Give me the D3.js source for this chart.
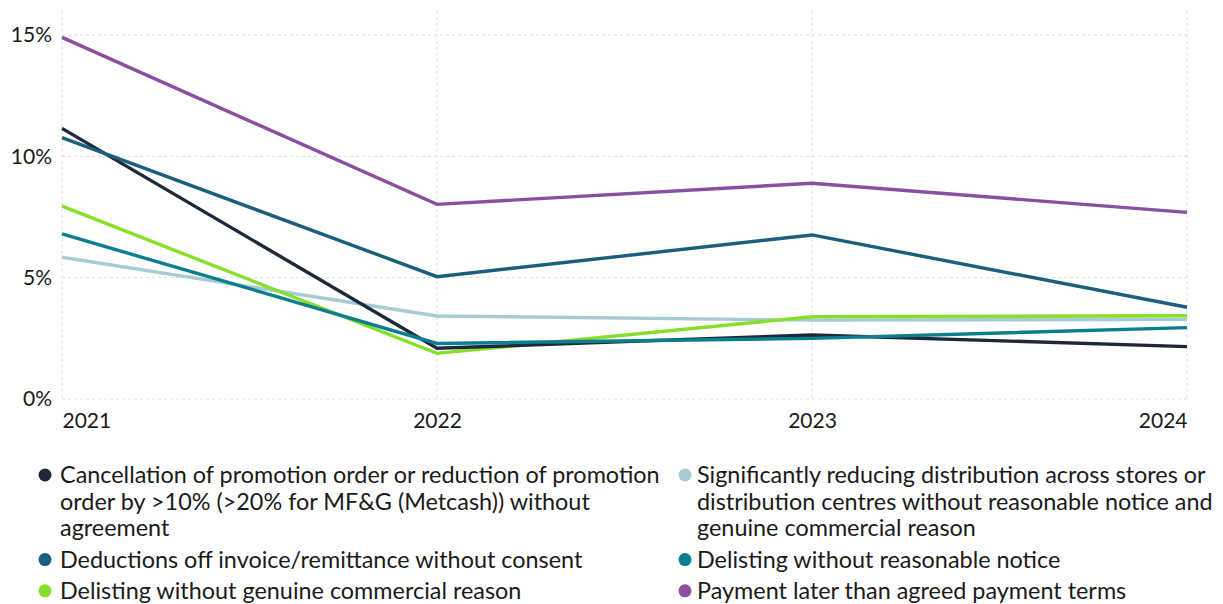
<!DOCTYPE html>
<html>
<head>
<meta charset="utf-8">
<script src="https://cdn.jsdelivr.net/npm/d3@7"></script>
<style>
  html, body { margin: 0; padding: 0; background: #fff; }
  svg { display: block; font-family: Lato, "Open Sans", sans-serif; }
</style>
</head>
<body>
<svg id="chart" width="1223" height="604"></svg>
<script>
const years = ["2021", "2022", "2023", "2024"];
const yTicks = [0, 5, 10, 15];

const seriesNames = [
  "Cancellation of promotion order or reduction of promotion\norder by >10% (>20% for MF&G (Metcash)) without\nagreement",
  "Significantly reducing distribution across stores or\ndistribution centres without reasonable notice and\ngenuine commercial reason",
  "Deductions off invoice/remittance without consent",
  "Delisting without reasonable notice",
  "Delisting without genuine commercial reason",
  "Payment later than agreed payment terms"
];
const seriesColors = ["#1d2939", "#a6cbd3", "#1b5f7c", "#0b7f8d", "#86df2a", "#8a4fa3"];

const cancellation = [11.15, 2.09, 2.64, 2.16];
const reducingDistribution = [5.84, 3.42, 3.25, 3.28];
const deductions = [10.77, 5.04, 6.76, 3.78];
const delistingNotice = [6.80, 2.29, 2.50, 2.94];
const delistingReason = [7.95, 1.88, 3.39, 3.43];
const paymentLate = [14.9, 8.02, 8.89, 7.69];

const seriesValues = [cancellation, reducingDistribution, deductions, delistingNotice, delistingReason, paymentLate];
const drawOrder = [1, 4, 0, 3, 2, 5];

const svg = d3.select("#chart");
const x = d3.scalePoint().domain(years).range([62, 1187]);
const y = d3.scaleLinear().domain([0, 16]).range([399, 10.7]);

// horizontal gridlines
svg.append("g").selectAll("line").data(yTicks).join("line")
  .attr("x1", x.range()[0]).attr("x2", x.range()[1])
  .attr("y1", d => y(d)).attr("y2", d => y(d))
  .attr("stroke", "#dcdcdc").attr("stroke-width", 1).attr("stroke-dasharray", "3,3");

// vertical gridlines
svg.append("g").selectAll("line").data(years).join("line")
  .attr("x1", d => x(d)).attr("x2", d => x(d))
  .attr("y1", y(16)).attr("y2", y(0))
  .attr("stroke", "#dcdcdc").attr("stroke-width", 1).attr("stroke-dasharray", "3,3");

// y axis labels
const yAxis = d3.axisLeft(y).tickValues(yTicks).tickFormat(d => d + "%").tickSize(0).tickPadding(10);
const gy = svg.append("g").attr("transform", `translate(${x.range()[0]},0)`).call(yAxis);
gy.select(".domain").remove();
gy.selectAll("text").attr("font-family", "Lato, sans-serif").attr("font-size", 21).attr("fill", "#1a1a1a");

// x axis labels
const xAxis = d3.axisBottom(x).tickSize(0).tickPadding(14);
const gx = svg.append("g").attr("transform", `translate(0,${y(0)})`).call(xAxis);
gx.select(".domain").remove();
gx.selectAll("text").attr("font-family", "Lato, sans-serif").attr("font-size", 21).attr("fill", "#1a1a1a")
  .attr("text-anchor", (d, i) => i === 0 ? "start" : (i === years.length - 1 ? "end" : "middle"));

// lines
const line = d3.line().x((d, i) => x(years[i])).y(d => y(d));
svg.append("g").selectAll("path").data(drawOrder).join("path")
  .attr("d", i => line(seriesValues[i]))
  .attr("fill", "none")
  .attr("stroke", i => seriesColors[i])
  .attr("stroke-width", 3.4)
  .attr("stroke-linejoin", "miter");

// legend
const lineH = 26.7, rowGap = 4.5;
const cols = [{cx: 45, tx: 60}, {cx: 685, tx: 697}];
const colY = [475, 475];
const legend = svg.append("g").attr("font-family", "Lato, sans-serif").attr("font-size", 23.4).attr("fill", "#1a1a1a");
seriesNames.forEach((name, i) => {
  const c = i % 2;
  const lines = name.split("\n");
  const top = colY[c];
  legend.append("circle").attr("cx", cols[c].cx).attr("cy", top).attr("r", 6.5).attr("fill", seriesColors[i]);
  const t = legend.append("text").attr("x", cols[c].tx).attr("y", top + 8);
  lines.forEach((l, k) => {
    t.append("tspan").attr("x", cols[c].tx).attr("y", top + 8 + k * lineH).text(l);
  });
  colY[c] = top + lines.length * lineH + rowGap;
});
</script>
</body>
</html>
